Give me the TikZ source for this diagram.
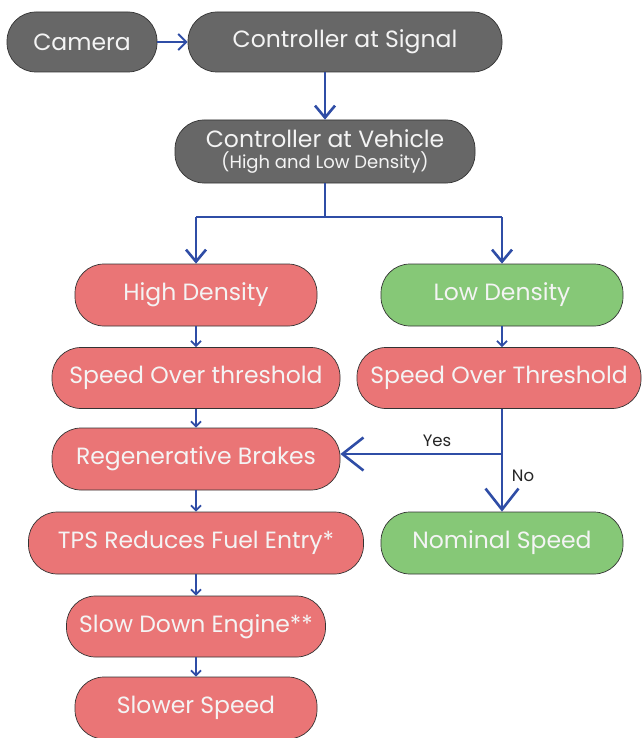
\documentclass[tikz,border=0pt]{standalone}
\usepackage{fontspec}
\setmainfont{Poppins}
\usetikzlibrary{arrows.meta}
\definecolor{greybox}{HTML}{676767}
\definecolor{redbox}{HTML}{EA7576}
\definecolor{greenbox}{HTML}{86C877}
\definecolor{edgeblue}{HTML}{2F4DA6}
\definecolor{boxtext}{HTML}{F4F4F4}
\tikzset{
  pill/.style={draw=black!80, line width=0.7pt, rounded corners=29pt, text=boxtext,
    inner sep=0pt, align=center, font=\fontsize{23.5}{25}\selectfont},
  gbox/.style={pill, fill=greybox},
  rbox/.style={pill, fill=redbox},
  ggbox/.style={pill, fill=greenbox},
  bigarrow/.style={draw=edgeblue, line width=2.6pt, -{Straight Barb[length=12pt,width=20pt,line width=2.6pt]}},
  smallarrow/.style={draw=edgeblue, line width=1.8pt, -{Straight Barb[length=5pt,width=10pt,line width=1.8pt]}},
  hugearrow/.style={draw=edgeblue, line width=2.6pt, -{Straight Barb[length=21pt,width=33pt,line width=2.6pt]}},
  lbl/.style={font=\fontsize{16.5}{18}\selectfont, text=black!85, inner sep=0pt}
}
\begin{document}
\begin{tikzpicture}[x=1pt,y=-1pt]
\useasboundingbox (0,0) rectangle (643,738);
\fill[white] (0,0) rectangle (643,738);
% nodes
\node[gbox, minimum width=150pt, minimum height=60pt] (cam) at (82,42) {Camera};
\node[gbox, minimum width=314pt, minimum height=60pt] (sig) at (345,42) {Controller at Signal};
\node[gbox, minimum width=300pt, minimum height=63pt] (veh) at (325,151.5)
  {Controller at Vehicle\\[-4pt]{\fontsize{18}{19}\selectfont (High and Low Density)}};
\node[rbox, minimum width=242pt, minimum height=62pt] (hd) at (196,295) {High Density};
\node[ggbox, minimum width=242pt, minimum height=62pt] (ld) at (502,295) {Low Density};
\node[rbox, minimum width=288pt, minimum height=61pt] (sot) at (196,378) {Speed Over threshold};
\node[rbox, minimum width=284pt, minimum height=61pt] (sot2) at (499,378) {Speed Over Threshold};
\node[rbox, minimum width=288pt, minimum height=62pt] (rb) at (196,459) {Regenerative Brakes};
\node[rbox, minimum width=335pt, minimum height=62pt] (tps) at (196,543) {TPS Reduces Fuel Entry*};
\node[ggbox, minimum width=242pt, minimum height=62pt] (nom) at (502,543) {Nominal Speed};
\node[rbox, minimum width=259pt, minimum height=61pt] (sde) at (196,626.5) {Slow Down Engine**};
\node[rbox, minimum width=242pt, minimum height=62pt] (ss) at (196,708) {Slower Speed};
% junction coordinates
\coordinate (jv) at (325,217);
\coordinate (jl) at (196,217);
\coordinate (jr) at (502,217);
\coordinate (jy) at (502,454);
% connectors
\draw[draw=edgeblue, line width=2pt, -{Straight Barb[length=8pt,width=16pt,line width=2pt]}] (cam.east) -- (sig.west);
\draw[bigarrow] (veh.north |- sig.south) -- (veh.north);
\draw[draw=edgeblue, line width=2.6pt] (veh.south) -- (jv);
\draw[draw=edgeblue, line width=2.6pt] (jl) -- (jr);
\draw[bigarrow] (jl) -- (hd.north);
\draw[bigarrow] (jr) -- (ld.north);
\draw[smallarrow] (hd.south) -- (sot.north);
\draw[smallarrow] (ld.south) -- (ld.south |- sot2.north);
\draw[smallarrow] (sot.south) -- (rb.north);
\draw[smallarrow] (rb.south) -- (tps.north);
\draw[smallarrow] (tps.south) -- (sde.north);
\draw[smallarrow] (sde.south) -- (ss.north);
\draw[hugearrow] (ld.south |- sot2.south) -- (nom.north);
\draw[hugearrow] (jy) -- (rb.east |- jy);
\node[lbl] (yes) at (437,441) {Yes};
\node[lbl] (no) at (523,476) {No};
\end{tikzpicture}
\end{document}
